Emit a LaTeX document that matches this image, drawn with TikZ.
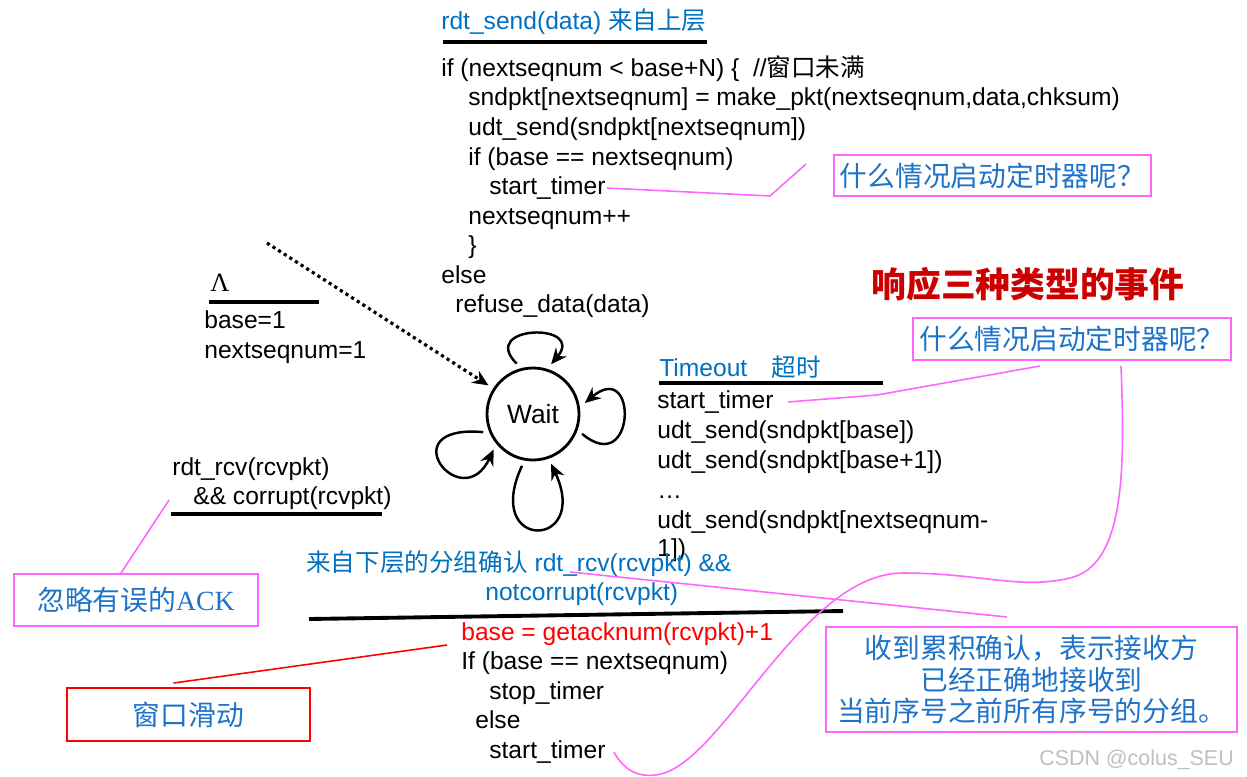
\documentclass[tikz,border=0pt]{standalone}
\usepackage{fontspec}
\setmainfont{Liberation Sans}
\newfontfamily\cjk{Noto Sans CJK SC}
\newfontfamily\serifrm{Liberation Serif}
\usepackage{tikz}
\usetikzlibrary{arrows.meta,positioning}
\definecolor{evBlue}{RGB}{0,112,192}
\definecolor{noteBlue}{RGB}{30,115,200}
\definecolor{noteMagenta}{RGB}{255,102,255}
\definecolor{evRed}{RGB}{204,0,0}
\newcommand{\codesize}{\fontsize{14pt}{16.8pt}\selectfont}
\newcommand{\notesize}{\fontsize{15.8pt}{18.1pt}\selectfont}

\begin{document}
\begin{tikzpicture}[x=0.02cm, y=0.02cm,
    code/.style={font=\codesize, anchor=west, inner sep=0pt, text height=10.5pt, text depth=2.8pt, yshift=-0.04cm},
    rule/.style={line width=2.2pt},
    note/.style={draw=noteMagenta, line width=1.1pt, text=noteBlue, font=\cjk\notesize, inner sep=0pt},
    noteline/.style={draw=noteMagenta, line width=0.9pt},
    selfloop/.style={line width=1.4pt, -{Stealth[length=9pt,width=8pt]}}]
  \useasboundingbox (0,0) rectangle (1247,-777);

  % rdt_send event
  \node[code, text=evBlue] (snd) at (441,-21) {rdt\_send(data) {\cjk 来自上层}};
  \draw[rule] (443,-42) -- (707,-42);
  \node[code] (c1) at (441,-68) {if (nextseqnum < base+N) \{\ \ //{\cjk 窗口未满}};
  \node[code] (c2) at (468,-97) {sndpkt[nextseqnum] = make\_pkt(nextseqnum,data,chksum)};
  \node[code] (c3) at (468,-127) {udt\_send(sndpkt[nextseqnum])};
  \node[code] (c4) at (468,-157) {if (base == nextseqnum)};
  \node[code] (c5) at (489,-186) {start\_timer};
  \node[code] (c6) at (468,-216) {nextseqnum++};
  \node[code] (c7) at (468,-245) {\}};
  \node[code] (c8) at (441,-275) {else};
  \node[code] (c9) at (455,-304) {refuse\_data(data)};

  % initial transition
  \node[code, font=\serifrm\fontsize{15pt}{18pt}\selectfont] (lam) at (210,-283) {Λ};
  \draw[line width=1.8pt] (209,-302) -- (319,-302);
  \node[code] (i1) at (204,-320) {base=1};
  \node[code] (i2) at (204,-350) {nextseqnum=1};

  % state
  \node[draw, circle, line width=1.6pt, minimum size=1.84cm, outer sep=0.14cm,
        font=\fontsize{15pt}{18pt}\selectfont] (wait) at (533,-414) {Wait};
  \coordinate (init) at (267,-243);
  \draw[dotted, line width=1.8pt, -{Stealth[length=9pt,width=8pt]}] (init) -- (wait);
  \draw[selfloop] (wait.108) .. controls +(135:55) and +(50:55) .. (wait.70);
  \draw[selfloop] (wait.-22) .. controls +(-40:70) and +(40:70) .. (wait.12);
  \draw[selfloop] (wait.200) .. controls +(175:95) and +(245:75) .. (wait.222);
  \draw[selfloop] (wait.258) .. controls +(245:95) and +(295:95) .. (wait.290);

  % timeout event
  \node[code, text=evBlue] (tmo) at (659,-368) {Timeout\quad{\cjk 超时}};
  \draw[rule] (659,-383) -- (883,-383);
  \node[code] (t1) at (657,-400) {start\_timer};
  \node[code] (t2) at (657,-430) {udt\_send(sndpkt[base])};
  \node[code] (t3) at (657,-460) {udt\_send(sndpkt[base+1])};
  \node[code] (t4) at (657,-490) {…};
  \node[code] (t5) at (657,-520) {udt\_send(sndpkt[nextseqnum-};
  \node[code] (t6) at (657,-548) {1])};

  % corrupt ack
  \node[code] (r1) at (172,-467) {rdt\_rcv(rcvpkt)};
  \node[code] (r2) at (193,-496) {\&\& corrupt(rcvpkt)};
  \draw[line width=2pt] (171,-514) -- (382,-514);

  % correct ack
  \node[code, text=evBlue] (a1) at (306,-563) {{\cjk 来自下层的分组确认} rdt\_rcv(rcvpkt) \&\&};
  \node[code, text=evBlue] (a2) at (485,-592) {notcorrupt(rcvpkt)};
  \draw[rule] (309,-619) -- (843,-611);
  \node[code, text=red] (b1) at (461,-632) {base = getacknum(rcvpkt)+1};
  \node[code] (b2) at (461,-661) {If (base == nextseqnum)};
  \node[code] (b3) at (489,-691) {stop\_timer};
  \node[code] (b4) at (475,-720) {else};
  \node[code] (b5) at (489,-750) {start\_timer};

  % notes
  \node[font=\cjk\bfseries\fontsize{19.8pt}{23pt}\selectfont, text=evRed] (ev) at (1028,-284) {响应三种类型的事件};
  \node[note, minimum width=6.34cm, minimum height=0.82cm] (q1) at (992.5,-175.5) {什么情况启动定时器呢？};
  \node[note, minimum width=6.36cm, minimum height=0.84cm] (q2) at (1072,-339) {什么情况启动定时器呢？};
  \node[note, minimum width=4.88cm, minimum height=1.04cm] (ig) at (136,-600) {忽略有误的{\serifrm ACK}};
  \node[note, draw=red, minimum width=4.86cm, minimum height=1.06cm] (wd) at (188.5,-714.5) {窗口滑动};
  \node[note, align=center, minimum width=8.22cm, minimum height=2.1cm] (cm) at (1031.5,-679.5)
    {收到累积确认，表示接收方\\已经正确地接收到\\当前序号之前所有序号的分组。};

  % note connectors
  \coordinate (q1tip) at (806,-164);
  \coordinate (q1bend) at (770,-196);
  \draw[noteline] ([xshift=0.02cm]c5.east) -- (q1bend) -- (q1tip);
  \coordinate (q2tip) at (1040,-366);
  \coordinate (q2bend) at (877,-395);
  \draw[noteline] ([xshift=0.28cm]t1.east) -- (q2bend) -- (q2tip);
  \coordinate (q2tail) at (1121,-366);
  \draw[noteline] ([xshift=0.16cm]b5.east) .. controls (625,-772) and (640,-777) .. (655,-775)
    .. controls (720,-770) and (800,-573) .. (903,-573)
    .. controls (980,-573) and (1020,-590) .. (1070,-578)
    .. controls (1125,-565) and (1125,-470) .. (q2tail);
  \coordinate (ackfrom) at (570,-572);
  \coordinate (ackto) at (1007,-617);
  \draw[noteline] (ackfrom) -- (ackto);
  \coordinate (igtip) at (169,-500);
  \draw[noteline] ([xshift=-0.3cm]ig.north) -- (igtip);
  \coordinate (wdfrom) at (447,-645);
  \draw[red, line width=0.9pt] (wdfrom) -- ([xshift=-0.3cm, yshift=0.08cm]wd.north);

  \node[anchor=east, text=black!25, font=\fontsize{12.2pt}{14pt}\selectfont] (mark) at (1240,-760) {CSDN @colus\_SEU};
\end{tikzpicture}
\end{document}
